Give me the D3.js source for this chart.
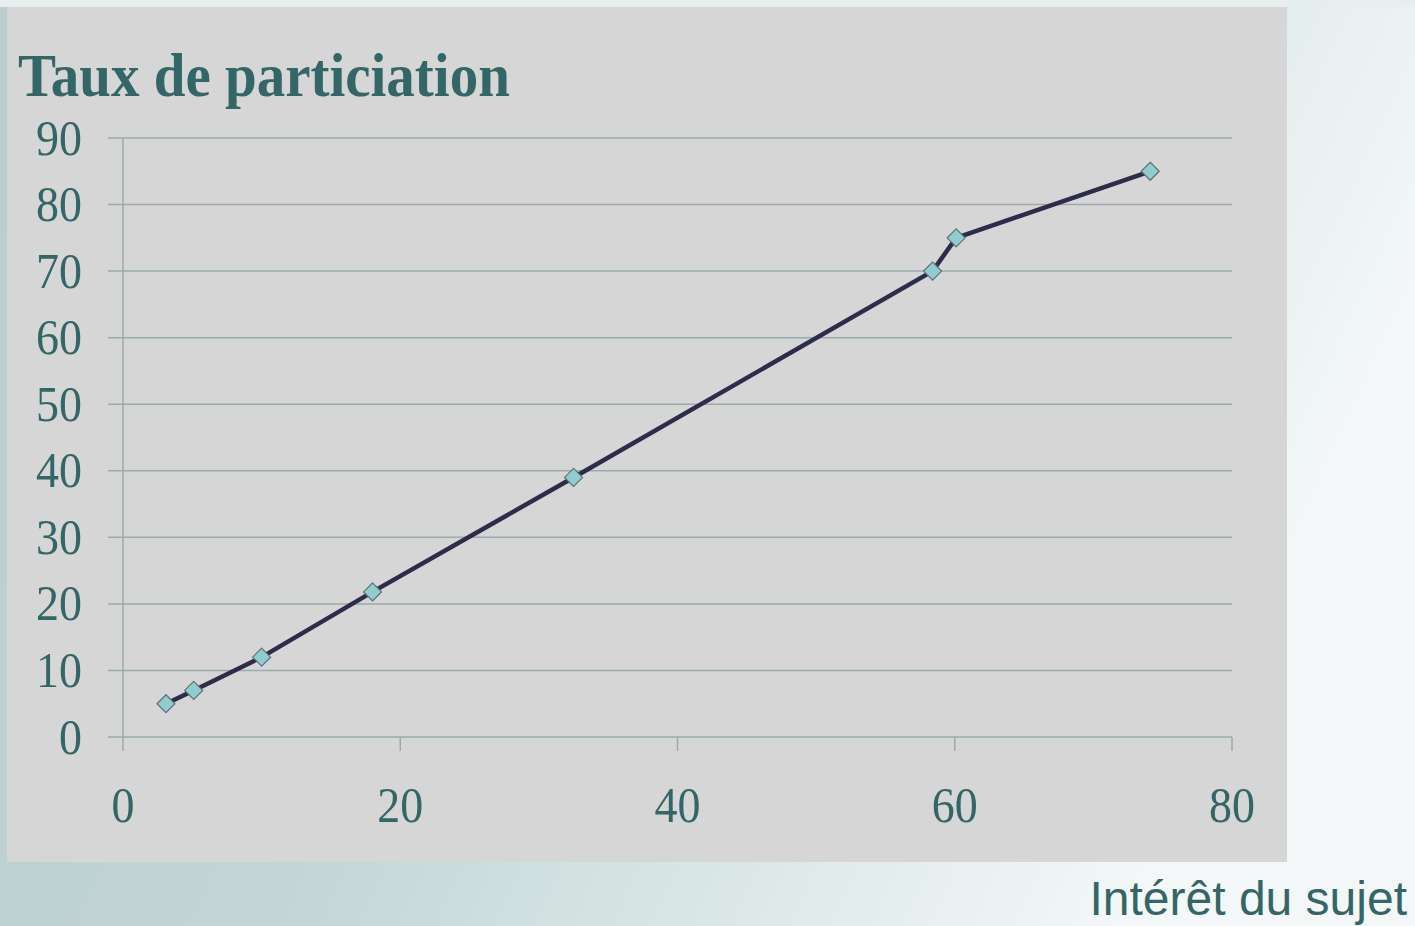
<!DOCTYPE html>
<html><head><meta charset="utf-8">
<script src="https://cdn.jsdelivr.net/npm/d3@7"></script>
<style>html,body{margin:0;padding:0;overflow:hidden;}</style>
</head><body>
<script>
const interet = [3.1, 5.1, 10.0, 18.0, 32.5, 58.4, 60.1, 74.1];
const participation = [5, 7, 12, 21.8, 39, 70, 75, 85];
const xTicks = [0, 20, 40, 60, 80];
const yTicks = [0, 10, 20, 30, 40, 50, 60, 70, 80, 90];
const title = "Taux de particiation";
const xTitle = "Intérêt du sujet";

const W = 1415, H = 926;
const svg = d3.select("body").append("svg").attr("width", W).attr("height", H);
const defs = svg.append("defs");
const g1 = defs.append("linearGradient").attr("id","bg").attr("x1","0").attr("y1","0").attr("x2","1").attr("y2","0.3");
g1.append("stop").attr("offset","0").attr("stop-color","#b9cdcd");
g1.append("stop").attr("offset","0.45").attr("stop-color","#c3d5d5");
g1.append("stop").attr("offset","0.75").attr("stop-color","#dce8e8");
g1.append("stop").attr("offset","1").attr("stop-color","#f3f7f7");
svg.append("rect").attr("width",W).attr("height",H).attr("fill","url(#bg)");
svg.append("rect").attr("x",0).attr("y",0).attr("width",W).attr("height",7).attr("fill","#e6eeee");

svg.append("rect").attr("x",7).attr("y",7).attr("width",1280).attr("height",855).attr("fill","#d6d6d6");

const teal = "#336666";
const x = d3.scaleLinear().domain([0,80]).range([123,1232]);
const y = d3.scaleLinear().domain([0,90]).range([737,138]);
const gridC = "#9aabab";

svg.append("g").selectAll("line").data(yTicks).join("line")
  .attr("x1",108).attr("x2",x(80)).attr("y1",d=>y(d)).attr("y2",d=>y(d))
  .attr("stroke",gridC).attr("stroke-width",1.5);
svg.append("line").attr("x1",x(0)).attr("x2",x(0)).attr("y1",y(90)).attr("y2",751)
  .attr("stroke",gridC).attr("stroke-width",1.5);
svg.append("g").selectAll("line").data(xTicks.slice(1)).join("line")
  .attr("x1",d=>x(d)).attr("x2",d=>x(d)).attr("y1",y(0)).attr("y2",751)
  .attr("stroke",gridC).attr("stroke-width",1.5);

const serif = "'Liberation Serif','Times New Roman',serif";
const st = 1.1;
svg.append("g").selectAll("text").data(yTicks).join("text")
  .attr("transform",d=>`translate(82,${y(d)+16.5}) scale(1,${st})`).attr("text-anchor","end")
  .attr("font-family",serif).attr("font-size",46).attr("fill",teal).text(d=>d);
svg.append("g").selectAll("text").data(xTicks).join("text")
  .attr("transform",d=>`translate(${x(d)},822) scale(1,${st})`).attr("text-anchor","middle")
  .attr("font-family",serif).attr("font-size",46).attr("fill",teal).text(d=>d);

svg.append("text").attr("transform",`translate(18,96) scale(1,1.08)`).attr("font-family",serif).attr("font-weight","bold")
  .attr("font-size",57).attr("fill",teal).text(title);

svg.append("text").attr("x",1407).attr("y",915).attr("text-anchor","end")
  .attr("font-family","'Liberation Sans',Arial,sans-serif").attr("font-size",48).attr("fill",teal).text(xTitle);

const pts = interet.map((v,i)=>[v, participation[i]]);
svg.append("path").attr("d", d3.line().x(d=>x(d[0])).y(d=>y(d[1]))(pts))
  .attr("fill","none").attr("stroke","#2f2b4b").attr("stroke-width",4.5).attr("stroke-linejoin","round");

const s = 9;
svg.append("g").selectAll("path").data(pts).join("path")
  .attr("d", d=>{const cx=x(d[0]), cy=y(d[1]); return `M${cx},${cy-s}L${cx+s},${cy}L${cx},${cy+s}L${cx-s},${cy}Z`;})
  .attr("fill","#8ecece").attr("stroke","#5f6f7c").attr("stroke-width",1.2);
</script>
</body></html>
